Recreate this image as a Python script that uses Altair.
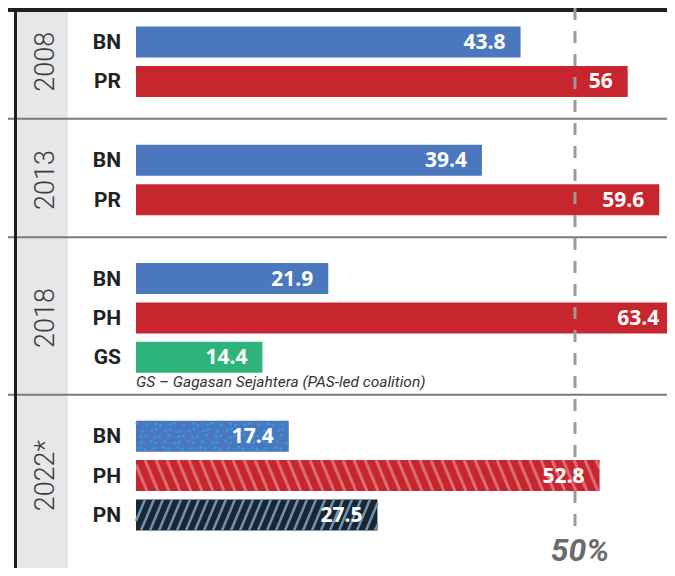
import altair as alt
import pandas as pd

# ---------------- data ----------------
years = ["2008", "2013", "2018", "2022*"]
parties = [["BN", "PR"], ["BN", "PR"], ["BN", "PH", "GS"], ["BN", "PH", "PN"]]
shares = [[43.8, 56], [39.4, 59.6], [21.9, 63.4, 14.4], [17.4, 52.8, 27.5]]
textures = [["", ""], ["", ""], ["", "", ""], ["dots", "hatch_back", "hatch_fwd"]]
party_colors = {"BN": "#4a77bd", "PR": "#c8262f", "PH": "#c8262f",
                "GS": "#2eb47a", "PN": "#1b2630"}
caption = "GS – Gagasan Sejahtera (PAS-led coalition)"
threshold = 50
threshold_label = "50%"

# ---------------- layout constants ----------------
W, H = 659, 560
PX_UNIT = 8.78          # pixels per percentage point
ROW_PX = 39.42          # pixels per bar row
X0 = -128 / PX_UNIT
X1 = X0 + W / PX_UNIT
Y0 = -34 / ROW_PX
Y1 = Y0 + H / ROW_PX
HALF = 15.5 / ROW_PX    # half bar thickness in row units

xs = alt.Scale(domain=[X0, X1], nice=False, zero=False)
ys = alt.Scale(domain=[Y0, Y1], nice=False, zero=False, reverse=True)

# ---------------- build tables ----------------
bars, groups, seps = [], [], []
row = 0
for g, yr in enumerate(years):
    first = row
    for p, v, t in zip(parties[g], shares[g], textures[g]):
        bars.append({"year": yr, "party": p, "v": v, "row": row,
                     "color": party_colors[p], "label": f"{v:g}",
                     "tex": t})
        row += 1
    last = row - 1
    groups.append({"year": yr, "row": (first + last) / 2, "first": first, "last": last})
    row += 1
for a, b in zip(groups[:-1], groups[1:]):
    seps.append({"r": (a["last"] + b["first"]) / 2 - 0.05})
bars_df = pd.DataFrame(bars)
bars_df["y1"] = bars_df["row"] - HALF
bars_df["y2"] = bars_df["row"] + HALF
bars_df["x0"] = 0.0
bars_df["lx"] = bars_df["v"].clip(upper=61.3)

# textures (decorative, derived from bar extents)
def hatch(b, spacing, slant, direction):
    out = []
    L = b["v"] * PX_UNIT
    t = -slant
    while t < L:
        s0 = max(0.0, (0 - t) / slant)
        s1 = min(1.0, (L - t) / slant)
        if s1 > s0:
            xa, xb = (t + slant * s0) / PX_UNIT, (t + slant * s1) / PX_UNIT
            if direction == "back":
                ya = b["row"] - HALF + 2 * HALF * s0
                yb = b["row"] - HALF + 2 * HALF * s1
            else:
                ya = b["row"] + HALF - 2 * HALF * s0
                yb = b["row"] + HALF - 2 * HALF * s1
            out.append({"xa": xa, "xb": xb, "ya": ya, "yb": yb})
        t += spacing
    return out

def dots(b):
    out = []
    L = b["v"] * PX_UNIT
    offs = [-12, -6, 0, 6, 12]
    for j, oy in enumerate(offs):
        i = 0
        x = 3 + (3.5 if j % 2 else 0)
        while x < L - 2:
            jx = ((i * 37 + j * 17) % 5) - 2
            jy = ((i * 13 + j * 29) % 5) - 2
            out.append({"dx": (x + jx) / PX_UNIT,
                        "dy": b["row"] + (oy + jy * 0.5) / ROW_PX})
            x += 7.5
            i += 1
    return out

hb, hf, dt = [], [], []
for b in bars:
    if b["tex"] == "hatch_back":
        hb += hatch(b, 11, 13, "back")
    elif b["tex"] == "hatch_fwd":
        hf += hatch(b, 9, 13, "fwd")
    elif b["tex"] == "dots":
        dt += dots(b)

one = pd.DataFrame({"k": [0]})

# ---------------- layers ----------------
band = alt.Chart(one).mark_rect(color="#e6e7e9").encode(
    x=alt.value(9), x2=alt.value(60), y=alt.value(0), y2=alt.value(H))
vline = alt.Chart(one).mark_rule(color="#1f1f1f", strokeWidth=3).encode(
    x=alt.value(7.5), y=alt.value(0), y2=alt.value(H))
topline = alt.Chart(one).mark_rule(color="#1f1f1f", strokeWidth=4).encode(
    x=alt.value(0), x2=alt.value(W), y=alt.value(2))
sep = alt.Chart(pd.DataFrame(seps)).mark_rule(color="#7a7a7a", strokeWidth=2).encode(
    x=alt.value(0), x2=alt.value(W), y=alt.Y("r:Q", scale=ys, axis=None))

bar = alt.Chart(bars_df).mark_rect().encode(
    x=alt.X("x0:Q", scale=xs, axis=None), x2="v:Q",
    y=alt.Y("y1:Q", scale=ys, axis=None), y2="y2:Q",
    fill=alt.Fill("color:N", scale=None))

hatch_b = alt.Chart(pd.DataFrame(hb)).mark_rule(
    color="#ffffff", opacity=0.33, strokeWidth=3, strokeCap="butt").encode(
    x=alt.X("xa:Q", scale=xs, axis=None), x2="xb:Q",
    y=alt.Y("ya:Q", scale=ys, axis=None), y2="yb:Q")
hatch_f = alt.Chart(pd.DataFrame(hf)).mark_rule(
    color="#6c93b8", strokeWidth=2.5, strokeCap="butt").encode(
    x=alt.X("xa:Q", scale=xs, axis=None), x2="xb:Q",
    y=alt.Y("ya:Q", scale=ys, axis=None), y2="yb:Q")
dot = alt.Chart(pd.DataFrame(dt)).mark_circle(
    color="#2ba3e4", size=9, opacity=0.85).encode(
    x=alt.X("dx:Q", scale=xs, axis=None),
    y=alt.Y("dy:Q", scale=ys, axis=None))

thr = alt.Chart(pd.DataFrame({"x": [threshold], "ya": [Y0], "yb": [12.5]})).mark_rule(
    color="#9a9a9a", strokeWidth=3, strokeDash=[12, 11]).encode(
    x=alt.X("x:Q", scale=xs, axis=None),
    y=alt.Y("ya:Q", scale=ys, axis=None), y2="yb:Q")

vals = alt.Chart(bars_df).mark_text(
    align="right", baseline="middle", dx=-15, dy=1, color="white",
    font="Open Sans", fontWeight="bold", fontSize=21).encode(
    x=alt.X("lx:Q", scale=xs, axis=None),
    y=alt.Y("row:Q", scale=ys, axis=None), text="label:N")

plabels = alt.Chart(bars_df).mark_text(
    align="right", baseline="middle", dy=1, color="#222222",
    font="Roboto", fontWeight="bold", fontSize=21).encode(
    x=alt.value(113), y=alt.Y("row:Q", scale=ys, axis=None), text="party:N")

ylabels = alt.Chart(pd.DataFrame(groups)).mark_text(
    align="center", baseline="middle", angle=270, color="#3c3c3c",
    font="Roboto", fontWeight=300, fontSize=27).encode(
    x=alt.value(37.5), y=alt.Y("row:Q", scale=ys, axis=None), text="year:N")

gs_row = bars_df.loc[bars_df["party"] == "GS", "row"].iloc[0]
cap = alt.Chart(pd.DataFrame({"t": [caption], "r": [gs_row + 0.63]})).mark_text(
    align="left", baseline="middle", color="#333333", font="Roboto",
    fontStyle="italic", fontSize=15.5).encode(
    x=alt.value(128), y=alt.Y("r:Q", scale=ys, axis=None), text="t:N")

thr_lab = alt.Chart(pd.DataFrame({"t": [threshold_label], "x": [threshold],
                                  "r": [bars_df["row"].max() + 0.9]})).mark_text(
    align="center", baseline="middle", color="#6b6b6b", font="Roboto",
    fontStyle="italic", fontWeight="bold", fontSize=32, dx=5).encode(
    x=alt.X("x:Q", scale=xs, axis=None),
    y=alt.Y("r:Q", scale=ys, axis=None), text="t:N")

chart = alt.layer(
    band, sep, vline, topline, bar, hatch_b, hatch_f, dot, thr,
    vals, plabels, ylabels, cap, thr_lab
).properties(
    width=W, height=H, padding=0,
    autosize=alt.AutoSizeParams(type="none"),
    background="white"
).configure_view(stroke=None)

chart.save("out.html", embed_options={"renderer": "svg", "actions": False})
